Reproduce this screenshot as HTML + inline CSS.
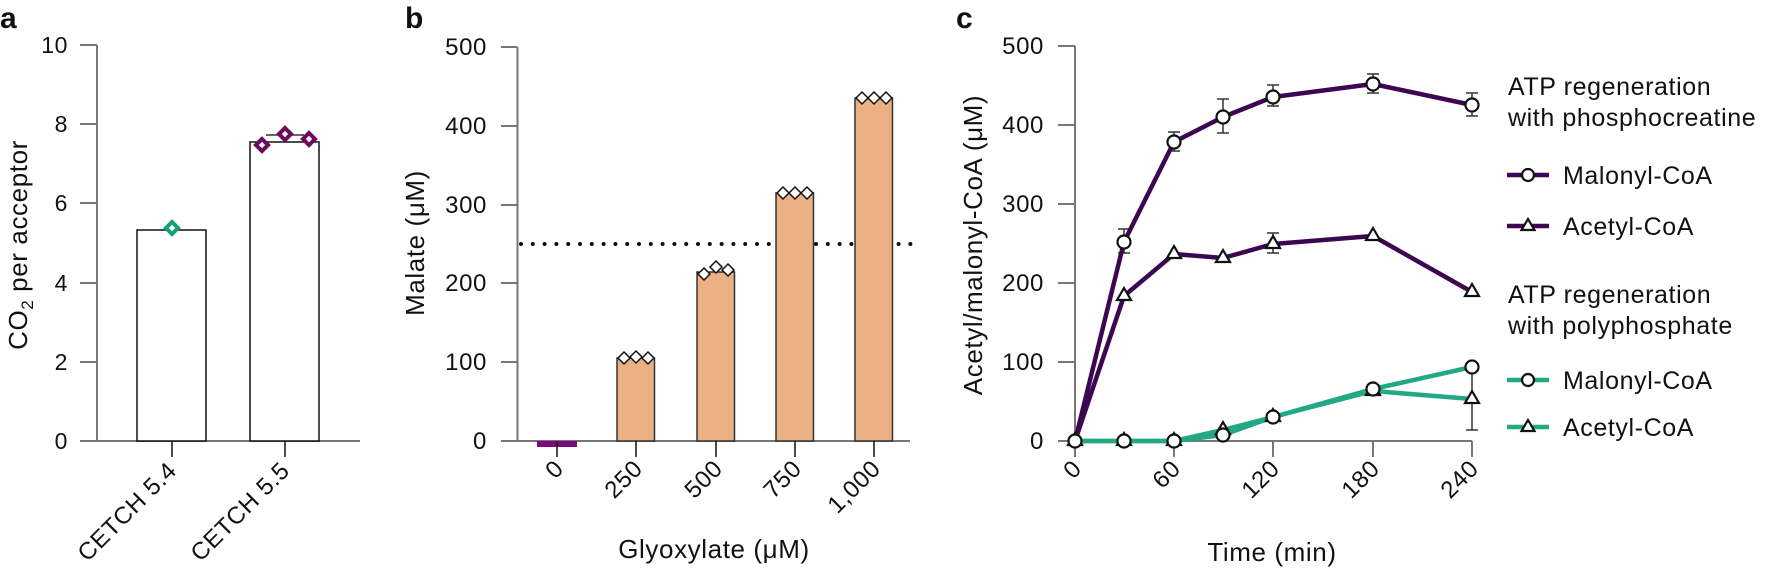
<!DOCTYPE html>
<html><head><meta charset="utf-8"><style>
html,body{margin:0;padding:0;background:#fff}
svg{display:block}
text{font-family:"Liberation Sans",sans-serif;fill:#111}
</style></head><body>
<svg width="1783" height="573" viewBox="0 0 1783 573" xmlns="http://www.w3.org/2000/svg">
<g font-size="23" letter-spacing="0.6">
<!-- Panel a -->
<text x="0" y="28" font-size="30" font-weight="bold">a</text>
<g stroke="#777" stroke-width="2">
<line x1="97" y1="45" x2="97" y2="441"/>
<line x1="80" y1="441" x2="360" y2="441"/>
<line x1="80" y1="45" x2="97" y2="45"/><line x1="80" y1="124" x2="97" y2="124"/>
<line x1="80" y1="203" x2="97" y2="203"/><line x1="80" y1="283" x2="97" y2="283"/>
<line x1="80" y1="362" x2="97" y2="362"/>
</g>
<g text-anchor="end">
<text x="68" y="53">10</text><text x="68" y="132">8</text><text x="68" y="211">6</text>
<text x="68" y="291">4</text><text x="68" y="370">2</text><text x="68" y="449">0</text>
</g>
<rect x="137" y="230" width="69" height="211" fill="#fff" stroke="#111" stroke-width="1.5"/>
<rect x="250" y="142" width="69" height="299" fill="#fff" stroke="#111" stroke-width="1.5"/>
<g stroke="#333" stroke-width="1.5"><line x1="266" y1="135" x2="304" y2="135"/><line x1="285" y1="135" x2="285" y2="142"/></g>
<g stroke="#111" stroke-width="1.5"><line x1="172" y1="441" x2="172" y2="457"/><line x1="285" y1="441" x2="285" y2="457"/></g>
<polygon points="172,222 178,228 172,234 166,228" fill="#fff" stroke="#13a07a" stroke-width="4"/>
<g fill="#fff" stroke="#6b0a5e" stroke-width="4">
<polygon points="262,139 268,145 262,151 256,145"/>
<polygon points="285,128 291,134 285,140 279,134"/>
<polygon points="309,133 315,139 309,145 303,139"/>
</g>
<text transform="translate(178,472) rotate(-45)" text-anchor="end" font-size="24">CETCH 5.4</text>
<text transform="translate(291,472) rotate(-45)" text-anchor="end" font-size="24">CETCH 5.5</text>
<text transform="translate(27,245) rotate(-90)" text-anchor="middle" font-size="26">CO<tspan font-size="17" dy="6">2</tspan><tspan dy="-6"> per acceptor</tspan></text>

<!-- Panel b -->
<text x="405" y="28" font-size="30" font-weight="bold">b</text>
<line x1="521" y1="244" x2="912" y2="244" stroke="#111" stroke-width="4" stroke-linecap="round" stroke-dasharray="0 11.8"/>
<g stroke="#777" stroke-width="2">
<line x1="517.5" y1="47" x2="517.5" y2="441"/>
<line x1="501" y1="441" x2="910" y2="441"/>
<line x1="501" y1="47" x2="517.5" y2="47"/><line x1="501" y1="126" x2="517.5" y2="126"/>
<line x1="501" y1="205" x2="517.5" y2="205"/><line x1="501" y1="283" x2="517.5" y2="283"/>
<line x1="501" y1="362" x2="517.5" y2="362"/>
</g>
<g text-anchor="end" font-size="24">
<text x="487" y="55">500</text><text x="487" y="134">400</text><text x="487" y="213">300</text>
<text x="487" y="291">200</text><text x="487" y="370">100</text><text x="487" y="449">0</text>
</g>
<rect x="537" y="441" width="40" height="6" fill="#7d0a7d"/>
<g fill="#ebb083" stroke="#333" stroke-width="1.5">
<rect x="617" y="358" width="37.5" height="83"/>
<rect x="697" y="272" width="37.5" height="169"/>
<rect x="776" y="193" width="37.5" height="248"/>
<rect x="855" y="98" width="37.5" height="343"/>
</g>
<g stroke="#111" stroke-width="1.5">
<line x1="557" y1="441" x2="557" y2="457"/><line x1="636" y1="441" x2="636" y2="457"/>
<line x1="716" y1="441" x2="716" y2="457"/><line x1="795" y1="441" x2="795" y2="457"/>
<line x1="874" y1="441" x2="874" y2="457"/>
</g>
<g fill="#fff" stroke="#111" stroke-width="1.5">
<polygon points="624,352 630,358 624,364 618,358"/><polygon points="636,351 642,357 636,363 630,357"/><polygon points="648,352 654,358 648,364 642,358"/>
<polygon points="704,268 710,274 704,280 698,274"/><polygon points="716,261 722,267 716,273 710,267"/><polygon points="728,264 734,270 728,276 722,270"/>
<polygon points="783,187 789,193 783,199 777,193"/><polygon points="795,187 801,193 795,199 789,193"/><polygon points="807,187 813,193 807,199 801,193"/>
<polygon points="862,92 868,98 862,104 856,98"/><polygon points="874,92 880,98 874,104 868,98"/><polygon points="886,92 892,98 886,104 880,98"/>
</g>
<g text-anchor="end" font-size="24">
<text transform="translate(565,470) rotate(-45)">0</text>
<text transform="translate(644,470) rotate(-45)">250</text>
<text transform="translate(724,470) rotate(-45)">500</text>
<text transform="translate(803,470) rotate(-45)">750</text>
<text transform="translate(882,470) rotate(-45)">1,000</text>
</g>
<text transform="translate(424,243) rotate(-90)" text-anchor="middle" font-size="26">Malate (μM)</text>
<text x="714" y="558" text-anchor="middle" font-size="26">Glyoxylate (μM)</text>

<!-- Panel c -->
<text x="956" y="28" font-size="30" font-weight="bold">c</text>
<g stroke="#777" stroke-width="2">
<line x1="1075" y1="46" x2="1075" y2="441"/>
<line x1="1058" y1="441" x2="1472" y2="441"/>
<line x1="1058" y1="46" x2="1075" y2="46"/><line x1="1058" y1="125" x2="1075" y2="125"/>
<line x1="1058" y1="204" x2="1075" y2="204"/><line x1="1058" y1="283" x2="1075" y2="283"/>
<line x1="1058" y1="362" x2="1075" y2="362"/>
<line x1="1075" y1="441" x2="1075" y2="457"/><line x1="1174" y1="441" x2="1174" y2="457"/>
<line x1="1273" y1="441" x2="1273" y2="457"/><line x1="1373" y1="441" x2="1373" y2="457"/>
<line x1="1472" y1="441" x2="1472" y2="457"/>
</g>
<g text-anchor="end" font-size="24">
<text x="1044" y="54">500</text><text x="1044" y="133">400</text><text x="1044" y="212">300</text>
<text x="1044" y="291">200</text><text x="1044" y="370">100</text><text x="1044" y="449">0</text>
</g>
<g text-anchor="end" font-size="24">
<text transform="translate(1083,470) rotate(-45)">0</text>
<text transform="translate(1182,470) rotate(-45)">60</text>
<text transform="translate(1281,470) rotate(-45)">120</text>
<text transform="translate(1381,470) rotate(-45)">180</text>
<text transform="translate(1480,470) rotate(-45)">240</text>
</g>
<text transform="translate(982,245) rotate(-90)" text-anchor="middle" font-size="26">Acetyl/malonyl-CoA (μM)</text>
<text x="1272" y="561" text-anchor="middle" font-size="26">Time (min)</text>
<!-- error bars -->
<g stroke="#333" stroke-width="1.5">
<line x1="1124" y1="229" x2="1124" y2="253"/><line x1="1118" y1="229" x2="1130" y2="229"/><line x1="1118" y1="253" x2="1130" y2="253"/>
<line x1="1174" y1="132" x2="1174" y2="151"/><line x1="1168" y1="132" x2="1180" y2="132"/><line x1="1168" y1="151" x2="1180" y2="151"/>
<line x1="1223" y1="99" x2="1223" y2="133"/><line x1="1217" y1="99" x2="1229" y2="99"/><line x1="1217" y1="133" x2="1229" y2="133"/>
<line x1="1273" y1="85" x2="1273" y2="106"/><line x1="1267" y1="85" x2="1279" y2="85"/><line x1="1267" y1="106" x2="1279" y2="106"/>
<line x1="1373" y1="74" x2="1373" y2="93"/><line x1="1367" y1="74" x2="1379" y2="74"/><line x1="1367" y1="93" x2="1379" y2="93"/>
<line x1="1472" y1="93" x2="1472" y2="116"/><line x1="1466" y1="93" x2="1478" y2="93"/><line x1="1466" y1="116" x2="1478" y2="116"/>
<line x1="1273" y1="233" x2="1273" y2="253"/><line x1="1267" y1="233" x2="1279" y2="233"/><line x1="1267" y1="253" x2="1279" y2="253"/>
<line x1="1472" y1="367" x2="1472" y2="430"/><line x1="1466" y1="430" x2="1478" y2="430"/>
</g>
<g fill="none" stroke-width="4.5" stroke-linejoin="round">
<polyline stroke="#22a884" points="1075,441 1124,441 1174,441 1223,435 1273,417 1373,389 1472,367"/>
<polyline stroke="#22a884" points="1075,441 1124,441 1174,441 1223,430 1273,417 1373,391 1472,399"/>
<polyline stroke="#3d0651" points="1075,441 1124,242 1174,142 1223,117 1273,97 1373,84 1472,105"/>
<polyline stroke="#3d0651" points="1075,441 1124,296 1174,254 1223,258 1273,244 1373,236 1472,292"/>
</g>
<g fill="#fff" stroke="#111" stroke-width="2.2">
<path d="M1124,288 l7,12 h-14z"/><path d="M1174,246 l7,12 h-14z"/><path d="M1223,250 l7,12 h-14z"/><path d="M1273,236 l7,12 h-14z"/><path d="M1373,228 l7,12 h-14z"/><path d="M1472,284 l7,12 h-14z"/>
<path d="M1223,422 l7,12 h-14z"/><path d="M1273,409 l7,12 h-14z"/><path d="M1373,383 l7,12 h-14z"/><path d="M1472,391 l7,12 h-14z"/>
<path d="M1075,433 l7,12 h-14z"/><path d="M1124,433 l7,12 h-14z"/><path d="M1174,433 l7,12 h-14z"/>
<circle cx="1124" cy="242" r="6.5"/><circle cx="1174" cy="142" r="6.5"/><circle cx="1223" cy="117" r="6.5"/><circle cx="1273" cy="97" r="6.5"/><circle cx="1373" cy="84" r="6.5"/><circle cx="1472" cy="105" r="6.5"/>
<circle cx="1075" cy="441" r="6.5"/><circle cx="1124" cy="441" r="6.5"/><circle cx="1174" cy="441" r="6.5"/><circle cx="1223" cy="435" r="6.5"/><circle cx="1273" cy="417" r="6.5"/><circle cx="1373" cy="389" r="6.5"/><circle cx="1472" cy="367" r="6.5"/>
</g>
<!-- legend -->
<g font-size="25">
<text x="1508" y="95">ATP regeneration</text>
<text x="1508" y="126">with phosphocreatine</text>
<text x="1508" y="303">ATP regeneration</text>
<text x="1508" y="334">with polyphosphate</text>
<text x="1563" y="184">Malonyl-CoA</text>
<text x="1563" y="235">Acetyl-CoA</text>
<text x="1563" y="389">Malonyl-CoA</text>
<text x="1563" y="436">Acetyl-CoA</text>
</g>
<g stroke-width="4.5">
<line x1="1507" y1="175" x2="1549" y2="175" stroke="#3d0651"/>
<line x1="1507" y1="226" x2="1549" y2="226" stroke="#3d0651"/>
<line x1="1507" y1="380" x2="1549" y2="380" stroke="#22a884"/>
<line x1="1507" y1="427" x2="1549" y2="427" stroke="#22a884"/>
</g>
<g fill="#fff" stroke="#111" stroke-width="2.2">
<circle cx="1528" cy="175" r="6"/><circle cx="1528" cy="380" r="6"/>
<path d="M1528,219 l6.5,11 h-13z"/><path d="M1528,420 l6.5,11 h-13z"/>
</g>
</g>
</svg>
</body></html>
